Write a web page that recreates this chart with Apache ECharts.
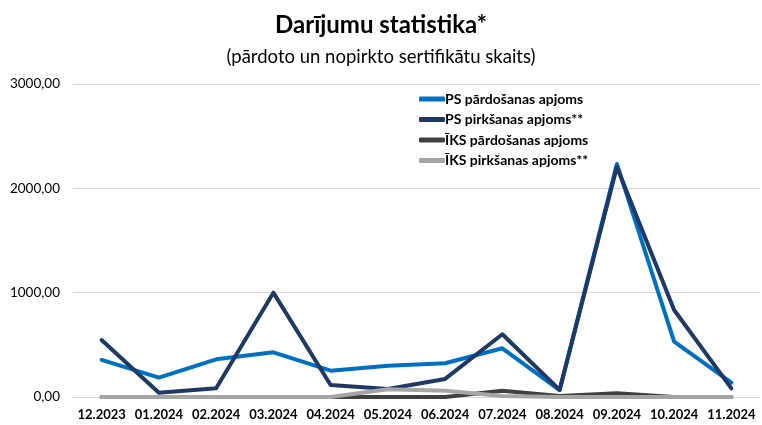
<!DOCTYPE html>
<html><head><meta charset="utf-8">
<script src="https://cdn.jsdelivr.net/npm/echarts@6/dist/echarts.min.js"></script>
<style>html,body{margin:0;padding:0;background:#fff}#c{width:762px;height:425px}</style>
</head><body><div id="c"></div>
<script>
const categories = ['12.2023','01.2024','02.2024','03.2024','04.2024','05.2024','06.2024','07.2024','08.2024','09.2024','10.2024','11.2024'];
const psSales = [355, 185, 361, 428, 252, 300, 323, 467, 67, 2234, 530, 137];
const psPurchases = [546, 41, 83, 1000, 115, 77, 173, 601, 67, 2205, 834, 83];
const iksSales = [0, 0, 0, 0, 0, 0, 0, 60, 10, 35, 0, 0];
const iksPurchases = [0, 0, 0, 0, 0, 74, 60, 10, 0, 0, 0, 0];
const seriesNames = ['PS pārdošanas apjoms','PS pirkšanas apjoms**','ĪKS pārdošanas apjoms','ĪKS pirkšanas apjoms**'];
const colors = ['#0070C0','#1F3864','#404040','#A5A5A5'];
const data = [psSales, psPurchases, iksSales, iksPurchases];

const chart = echarts.init(document.getElementById('c'), null, {renderer:'canvas'});
chart.setOption({
  animation:false,
  textStyle:{fontFamily:'Lato'},
  title:[
    {text:'Darījumu statistika*', left:'center', top:8, textStyle:{fontFamily:'Lato', fontWeight:'bold', fontSize:24, color:'#000'}},
    {text:'(pārdoto un nopirkto sertifikātu skaits)', left:'center', top:43, textStyle:{fontFamily:'Lato', fontWeight:'normal', fontSize:18.5, color:'#000'}}
  ],
  legend:{
    orient:'vertical', left:414, top:87, itemWidth:26, itemHeight:5, itemGap:6.5,
    icon:'roundRect',
    textStyle:{fontFamily:'Lato', fontWeight:'bold', fontSize:14, color:'#000', lineHeight:14, padding:[0,0,0,-5]},
    data:seriesNames
  },
  grid:{left:73, right:2, top:84, bottom:28, containLabel:false},
  xAxis:{
    type:'category', data:categories, boundaryGap:true,
    axisLine:{show:true, lineStyle:{color:'#D9D9D9'}},
    axisTick:{show:false},
    axisLabel:{fontFamily:'Lato', fontWeight:'bold', fontSize:13, color:'#000', margin:11, interval:0}
  },
  yAxis:{
    type:'value', min:0, max:3000, interval:1000,
    axisLine:{show:false}, axisTick:{show:false},
    splitLine:{lineStyle:{color:'#D9D9D9'}},
    axisLabel:{fontFamily:'Lato', fontSize:13.5, color:'#000', margin:13,
      formatter:v=>v.toFixed(2).replace('.',',')}
  },
  series: data.map((d,i)=>({
    name:seriesNames[i], type:'line', data:d, symbol:'none',
    lineStyle:{width:4, color:colors[i], cap:'round', join:'round'},
    itemStyle:{color:colors[i]},
    z:2+i
  }))
});
</script></body></html>
